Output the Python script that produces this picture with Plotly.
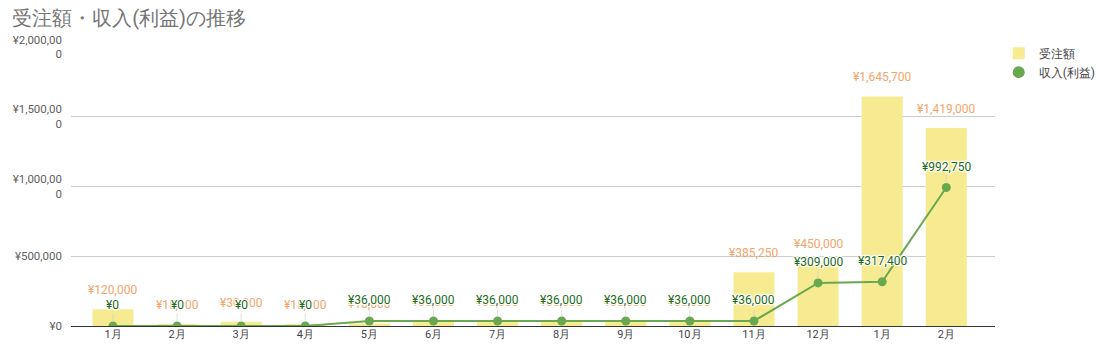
import plotly.graph_objects as go

months = ["1月", "2月", "3月", "4月", "5月", "6月", "7月", "8月", "9月", "10月", "11月", "12月", "1月", "2月"]
orders = [120000, 15000, 30000, 15000, 18000, 36000, 36000, 36000, 36000, 36000, 385250, 450000, 1645700, 1419000]
profit = [0, 0, 0, 0, 36000, 36000, 36000, 36000, 36000, 36000, 36000, 309000, 317400, 992750]
y_tickvals = [0, 500000, 1000000, 1500000, 2000000]
y_ticktext = ["¥0", "¥500,000", "¥1,000,00<br>0", "¥1,500,00<br>0", "¥2,000,00<br>0"]

BAR = "#f7eb92"
LINE = "#6aa84f"
ORANGE = "#f4a46a"
DGREEN = "#1d6b1d"
FONT = "Roboto"
HALO = ("1px 0 1px white, -1px 0 1px white, 0 1px 1px white, 0 -1px 1px white, "
        "1px 1px 1px white, -1px -1px 1px white, 1px -1px 1px white, -1px 1px 1px white")

def yen(v):
    return "¥{:,}".format(v)

xs = list(range(len(months)))
fig = go.Figure()
fig.add_trace(go.Bar(
    x=xs, y=orders, name="受注額",
    marker=dict(color=BAR, line=dict(width=0)),
    hoverinfo="skip",
))
fig.add_trace(go.Scatter(
    x=xs, y=profit, name="収入(利益)",
    mode="lines+markers", showlegend=False,
    line=dict(color=LINE, width=2),
    marker=dict(color=LINE, size=9),
    hoverinfo="skip",
))
# legend entry for the line series (marker only, as in the reference legend)
fig.add_trace(go.Scatter(
    x=[None], y=[None], name="収入(利益)", mode="markers",
    marker=dict(color=LINE, size=11), hoverinfo="skip",
))

annotations = []
for i, v in enumerate(orders):
    annotations.append(dict(
        x=i, y=v, xref="x", yref="y", text=yen(v), showarrow=False,
        yanchor="bottom", yshift=10,
        font=dict(family=FONT, size=12, color=ORANGE),
    ))
for i, v in enumerate(profit):
    annotations.append(dict(
        x=i, y=v, xref="x", yref="y", text=yen(v), showarrow=True,
        arrowhead=0, arrowwidth=0.6, arrowcolor="#cccccc",
        ax=0, ay=-21, standoff=4,
        font=dict(family=FONT, size=12, color=DGREEN, shadow=HALO),
    ))

fig.update_layout(
    width=1116, height=361,
    margin=dict(l=71, r=121, t=47, b=35, autoexpand=False),
    paper_bgcolor="white", plot_bgcolor="white",
    font=dict(family=FONT, size=11, color="#5f5f5f"),
    title=dict(text="受注額・収入(利益)の推移", x=0.011, xref="container", y=0.95, yref="container",
               xanchor="left", yanchor="middle",
               font=dict(family=FONT, size=20, color="#757575")),
    bargap=0.36,
    showlegend=True,
    legend=dict(x=1.004, y=1.03, xanchor="left", yanchor="top",
                font=dict(family=FONT, size=12, color="#444444"),
                bgcolor="rgba(0,0,0,0)", itemsizing="constant", itemwidth=30),
    annotations=annotations,
)
fig.update_xaxes(
    tickmode="array", tickvals=xs, ticktext=months,
    range=[-0.655, 13.76], showgrid=False, showline=False, zeroline=False,
    ticks="", tickfont=dict(family=FONT, size=11, color="#444444"),
)
fig.update_yaxes(
    range=[0, 2000000], tickmode="array", tickvals=y_tickvals, ticktext=y_ticktext,
    showgrid=True, gridcolor="#cccccc", gridwidth=1,
    zeroline=True, zerolinecolor="#333333", zerolinewidth=1,
    showline=False, ticks="", ticklabelstandoff=8,
    tickfont=dict(family=FONT, size=11.5, color="#5f5f5f"),
)

fig.write_html("out.html", config={"displayModeBar": False},
               post_script="document.body.style.margin='0';document.body.style.overflow='hidden';")
